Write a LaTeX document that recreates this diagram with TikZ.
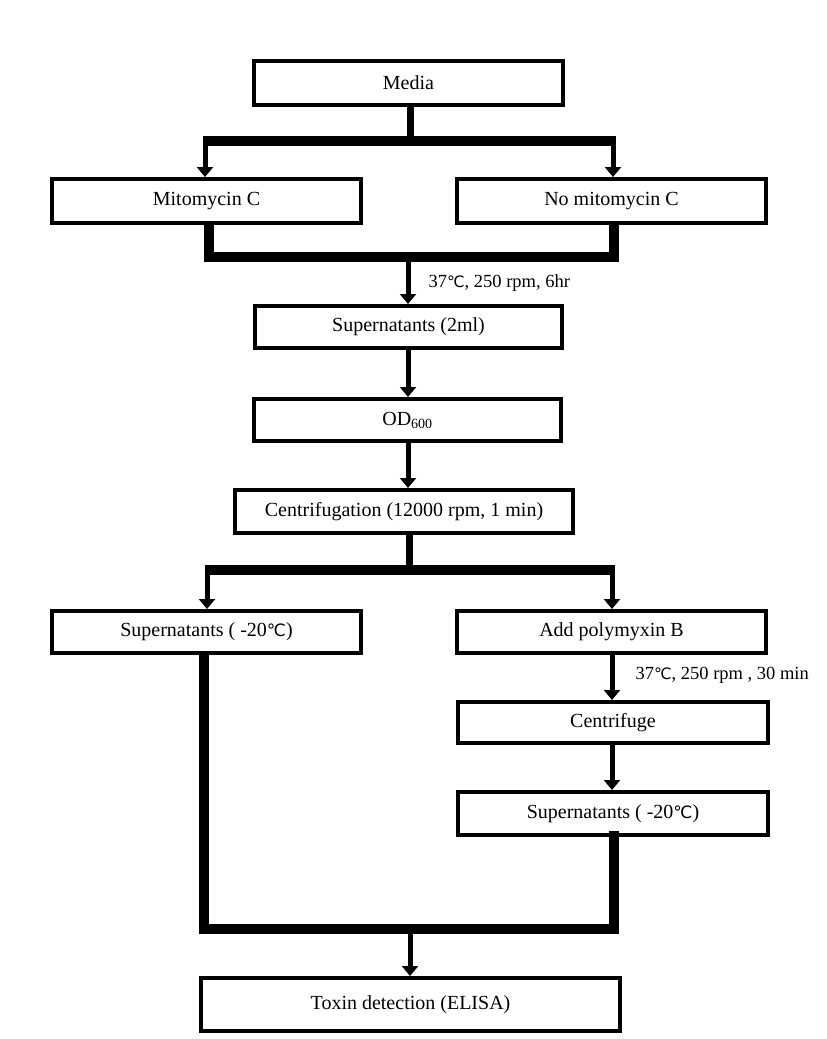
\documentclass[tikz,border=0pt]{standalone}
\usepackage{fontspec}
\setmainfont{Liberation Serif}
\newfontfamily\degfont{DejaVu Sans}[Scale=0.85]
\usetikzlibrary{arrows.meta}
\newcommand{\degc}{{\degfont ℃}}
\begin{document}
\begin{tikzpicture}[x=1pt,y=-1pt,
  box/.style={draw, line width=4pt, rectangle, inner sep=0pt, font=\fontsize{20}{22}\selectfont},
  bar/.style={line width=10pt, line join=miter},
  stem/.style={line width=7pt},
  arr/.style={line width=5pt, -{Triangle[width=16pt,length=10pt]}},
  lab/.style={anchor=west, inner sep=0pt, font=\fontsize{18.5}{20}\selectfont}]
\useasboundingbox[fill=white] (0,0) rectangle (827,1039);

% boxes
\node[box, minimum width=309pt, minimum height=44pt] (media) at (408.5,83) {Media};
\node[box, minimum width=309pt, minimum height=44pt] (mito) at (206.5,201) {Mitomycin C};
\node[box, minimum width=309pt, minimum height=44pt] (nomito) at (611.5,201) {No mitomycin C};
\node[box, minimum width=307pt, minimum height=42pt] (sup2) at (408.5,327) {Supernatants (2ml)};
\node[box, minimum width=307pt, minimum height=42pt] (od) at (407.5,420) {OD\textsubscript{600}};
\node[box, minimum width=338pt, minimum height=43pt] (cent) at (404,511.5) {Centrifugation (12000 rpm, 1 min)};
\node[box, minimum width=309pt, minimum height=42pt] (supl) at (206.5,632) {Supernatants ( -20\degc)};
\node[box, minimum width=309pt, minimum height=42pt] (poly) at (611.5,632) {Add polymyxin B};
\node[box, minimum width=310pt, minimum height=41pt] (cfuge) at (613,722.5) {Centrifuge};
\node[box, minimum width=310pt, minimum height=43pt] (supr) at (613,813.5) {Supernatants ( -20\degc)};
\node[box, minimum width=419pt, minimum height=53pt] (toxin) at (410.5,1004.5) {Toxin detection (ELISA)};

% coordinates
\coordinate (s1) at (410,141);
\coordinate (b1l) at (202.5,141);
\coordinate (b1r) at (615.5,141);
\coordinate (a1l) at (205,141);
\coordinate (a1r) at (613,141);
\coordinate (k1l) at (209,257);
\coordinate (k1r) at (614,257);
\coordinate (k1m) at (408,262);
\coordinate (s2) at (409,570);
\coordinate (b2l) at (204.5,570);
\coordinate (b2r) at (614.5,570);
\coordinate (a2l) at (207,570);
\coordinate (a2r) at (612,570);
\coordinate (k2l) at (204,929);
\coordinate (k2r) at (614,929);
\coordinate (k2m) at (410,934);

% Media split
\draw[stem] (media.south -| s1) -- (s1);
\draw[bar] (b1l) -- (b1r);
\draw[arr] (a1l) -- (mito.north -| a1l);
\draw[arr] (a1r) -- (nomito.north -| a1r);

% merge
\draw[bar] (mito.south -| k1l) -- (k1l) -- (k1r) -- (nomito.south -| k1r);
\draw[arr] (k1m) -- (sup2.north -| k1m) node[lab, pos=0.5, xshift=18pt] {37\degc, 250 rpm, 6hr};

\draw[arr] (sup2.south -| k1m) -- (od.north -| k1m);
\draw[arr] (od.south -| k1m) -- (cent.north -| k1m);

% centrifugation split
\draw[stem] (cent.south -| s2) -- (s2);
\draw[bar] (b2l) -- (b2r);
\draw[arr] (a2l) -- (supl.north -| a2l);
\draw[arr] (a2r) -- (poly.north -| a2r);

% right branch
\draw[arr] ([yshift=4pt]poly.south -| a2r) -- (cfuge.north -| a2r) node[lab, pos=0.5, xshift=21pt] {37\degc, 250 rpm , 30 min};
\draw[arr] (cfuge.south -| a2r) -- (supr.north -| a2r);

% final merge
\draw[bar] ([yshift=4pt]supl.south -| k2l) -- (k2l) -- (k2r) -- ([yshift=6pt]supr.south -| k2r);
\draw[arr] (k2m) -- (toxin.north -| k2m);
\end{tikzpicture}
\end{document}
